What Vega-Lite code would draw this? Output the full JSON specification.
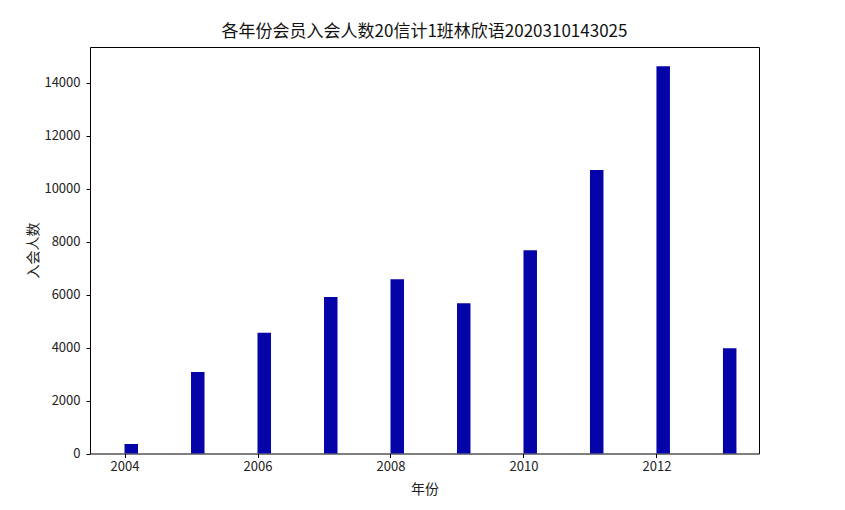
{
  "$schema": "https://vega.github.io/schema/vega-lite/v6.json",
  "autosize": {"type": "none"},
  "width": 669,
  "height": 406.5,
  "padding": {"left": 90, "top": 47, "right": 86, "bottom": 56},
  "background": "white",
  "title": {
    "text": "各年份会员入会人数20信计1班林欣语2020310143025",
    "font": "Noto Sans CJK SC",
    "fontSize": 17,
    "fontWeight": "normal",
    "color": "#111111",
    "anchor": "middle",
    "offset": 6
  },
  "data": {
    "values": [
      {"year": 2004, "count": 358},
      {"year": 2005, "count": 3071},
      {"year": 2006, "count": 4553},
      {"year": 2007, "count": 5910},
      {"year": 2008, "count": 6576},
      {"year": 2009, "count": 5672},
      {"year": 2010, "count": 7669},
      {"year": 2011, "count": 10696},
      {"year": 2012, "count": 14615},
      {"year": 2013, "count": 3976}
    ]
  },
  "mark": {"type": "bar", "width": 13.5, "xOffset": 6.75, "color": "#0404A8"},
  "encoding": {
    "x": {
      "field": "year",
      "type": "quantitative",
      "title": "年份",
      "scale": {"domain": [2003.556, 2013.467], "nice": false, "zero": false},
      "axis": {
        "values": [2004, 2006, 2008, 2010, 2012],
        "format": "d",
        "grid": false,
        "domain": false,
        "tickColor": "#000000",
        "tickSize": 4,
        "labelPadding": 3,
        "labelFont": "Noto Sans CJK SC",
        "labelFontSize": 13,
        "labelColor": "#222222",
        "titleFont": "Noto Sans CJK SC",
        "titleFontSize": 14,
        "titleFontWeight": "normal",
        "titleColor": "#222222",
        "titleY": 36,
        "titleBaseline": "middle"
      }
    },
    "y": {
      "field": "count",
      "type": "quantitative",
      "title": "入会人数",
      "scale": {"domain": [0, 15340], "nice": false},
      "axis": {
        "values": [0, 2000, 4000, 6000, 8000, 10000, 12000, 14000],
        "format": "d",
        "grid": false,
        "domain": false,
        "tickColor": "#000000",
        "tickSize": 4,
        "labelPadding": 6,
        "labelFont": "Noto Sans CJK SC",
        "labelFontSize": 13,
        "labelColor": "#222222",
        "titleFont": "Noto Sans CJK SC",
        "titleFontSize": 14,
        "titleFontWeight": "normal",
        "titleColor": "#222222",
        "titleX": -57,
        "titleY": 203,
        "titleAngle": -90,
        "titleAlign": "center",
        "titleBaseline": "middle"
      }
    }
  },
  "config": {
    "view": {"stroke": "#000000", "strokeWidth": 1}
  }
}
